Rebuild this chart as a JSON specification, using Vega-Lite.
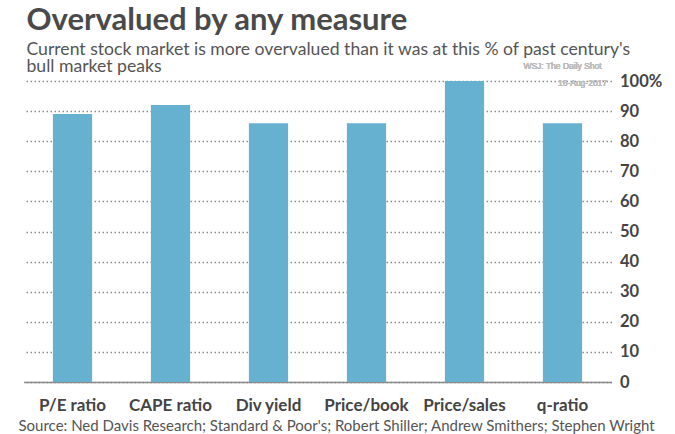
{
  "$schema": "https://vega.github.io/schema/vega-lite/v6.json",
  "width": 588,
  "height": 301,
  "autosize": {"type": "none"},
  "padding": {"left": 23.5, "top": 81, "right": 63.5, "bottom": 52},
  "background": "white",
  "title": {
    "text": "Overvalued by any measure",
    "subtitle": ["Current stock market is more overvalued than it was at this % of past century's", "bull market peaks"],
    "anchor": "start",
    "frame": "group",
    "offset": -15,
    "dx": 3,
    "font": "Lato",
    "fontSize": 31,
    "fontWeight": "bold",
    "color": "#4a4a4a",
    "subtitleFont": "Lato",
    "subtitleFontSize": 17.6,
    "subtitleColor": "#555555",
    "subtitleLineHeight": 17.5,
    "subtitlePadding": 4
  },
  "data": {
    "values": [
      {"measure": "P/E ratio", "value": 89},
      {"measure": "CAPE ratio", "value": 92},
      {"measure": "Div yield", "value": 86},
      {"measure": "Price/book", "value": 86},
      {"measure": "Price/sales", "value": 100},
      {"measure": "q-ratio", "value": 86}
    ]
  },
  "layer": [
    {
      "mark": {"type": "bar", "color": "#67b1d0"},
      "encoding": {
        "x": {
          "field": "measure",
          "type": "nominal",
          "sort": null,
          "scale": {"paddingInner": 0.6, "paddingOuter": 0.3},
          "axis": {
            "title": "Source: Ned Davis Research; Standard & Poor's; Robert Shiller; Andrew Smithers; Stephen Wright",
            "titleFont": "Lato",
            "titleFontSize": 15,
            "titleFontWeight": "normal",
            "titleColor": "#555555",
            "titleAlign": "left",
            "titleBaseline": "middle",
            "titleX": -5.5,
            "titleY": 43,
            "labelAngle": 0,
            "labelFont": "Lato",
            "labelFontSize": 17,
            "labelFontWeight": "bold",
            "labelColor": "#444444",
            "labelPadding": 15,
            "ticks": false,
            "domainColor": "#8a8a8a",
            "domainWidth": 1.5
          }
        },
        "y": {
          "field": "value",
          "type": "quantitative",
          "scale": {"domain": [0, 100]},
          "axis": {
            "orient": "right",
            "title": null,
            "values": [0, 10, 20, 30, 40, 50, 60, 70, 80, 90, 100],
            "labelOverlap": false,
            "labelExpr": "datum.value == 100 ? '100%' : datum.label",
            "labelFont": "Lato",
            "labelFontSize": 16.5,
            "labelFontWeight": "bold",
            "labelColor": "#444444",
            "labelPadding": 8,
            "labelAlign": "left",
            "ticks": false,
            "domain": false,
            "grid": true,
            "gridColor": "#8c8c8c",
            "gridDash": [1.5, 2.5],
            "gridWidth": 1.5
          }
        }
      }
    },
    {
      "mark": {"type": "text", "font": "Liberation Sans", "fontSize": 8.5, "color": "#bdbdbd"},
      "encoding": {
        "x": {"datum": "q-ratio", "type": "nominal"},
        "y": {
          "datum": 105,
          "type": "quantitative",
          "axis": {
            "orient": "right",
            "title": null,
            "values": [0, 10, 20, 30, 40, 50, 60, 70, 80, 90, 100],
            "labelOverlap": false,
            "labelExpr": "datum.value == 100 ? '100%' : datum.label",
            "labelFont": "Lato",
            "labelFontSize": 16.5,
            "labelFontWeight": "bold",
            "labelColor": "#444444",
            "labelPadding": 8,
            "labelAlign": "left",
            "ticks": false,
            "domain": false,
            "grid": true,
            "gridColor": "#8c8c8c",
            "gridDash": [1.5, 2.5],
            "gridWidth": 1.5
          }
        },
        "text": {"value": "WSJ: The Daily Shot"}
      }
    },
    {
      "mark": {"type": "text", "font": "Liberation Sans", "fontSize": 8.5, "color": "#bdbdbd", "dx": 20},
      "encoding": {
        "x": {"datum": "q-ratio", "type": "nominal"},
        "y": {
          "datum": 99.5,
          "type": "quantitative",
          "axis": {
            "orient": "right",
            "title": null,
            "values": [0, 10, 20, 30, 40, 50, 60, 70, 80, 90, 100],
            "labelOverlap": false,
            "labelExpr": "datum.value == 100 ? '100%' : datum.label",
            "labelFont": "Lato",
            "labelFontSize": 16.5,
            "labelFontWeight": "bold",
            "labelColor": "#444444",
            "labelPadding": 8,
            "labelAlign": "left",
            "ticks": false,
            "domain": false,
            "grid": true,
            "gridColor": "#8c8c8c",
            "gridDash": [1.5, 2.5],
            "gridWidth": 1.5
          }
        },
        "text": {"value": "16-Aug-2017"}
      }
    }
  ],
  "config": {"view": {"stroke": null}}
}
